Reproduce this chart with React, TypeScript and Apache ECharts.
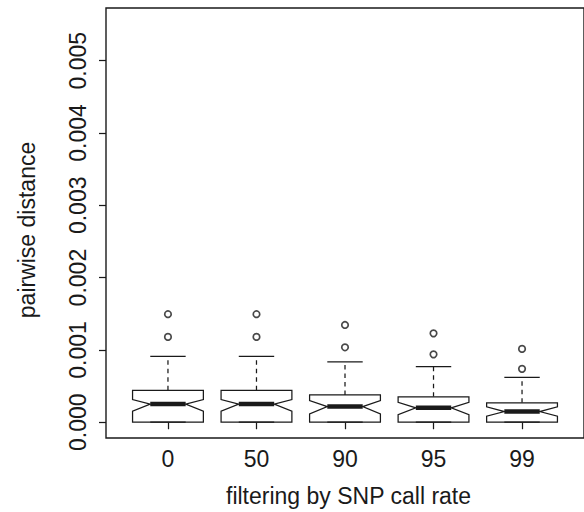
import React, { useEffect, useRef } from "react";
import * as echarts from "echarts";

const categories = ["0", "50", "90", "95", "99"];
const lowerWhisker = [0, 0, 0, 0, 0];
const q1 = [0, 0, 0, 0, 0];
const notchLow = [0.000152, 0.000152, 0.000116, 0.000106, 0.000083];
const medians = [0.000251, 0.000251, 0.000217, 0.000199, 0.000148];
const notchHigh = [0.000314, 0.000314, 0.0003, 0.000276, 0.000213];
const q3 = [0.000442, 0.000442, 0.000378, 0.000351, 0.000268];
const upperWhisker = [0.000912, 0.000912, 0.000834, 0.000769, 0.000622];
const outlierLow = [0.00118, 0.00118, 0.001036, 0.000939, 0.000738];
const outlierHigh = [0.001494, 0.001494, 0.001345, 0.001229, 0.001014];
const yTicks = [0, 0.001, 0.002, 0.003, 0.004, 0.005];

const INK = "#1a1a1a";
const FONT = "'Liberation Sans', Arial, Helvetica, sans-serif";
const LW = 1.25;

export default function App() {
  const ref = useRef<HTMLDivElement>(null);

  useEffect(() => {
    if (!ref.current) return;
    const chart = echarts.init(ref.current, null, { renderer: "svg" });

    const boxData = categories.map((_, i) => [
      i + 1,
      lowerWhisker[i],
      q1[i],
      notchLow[i],
      medians[i],
      notchHigh[i],
      q3[i],
      upperWhisker[i],
    ]);
    const outlierData: number[][] = [];
    categories.forEach((_, i) => {
      outlierData.push([i + 1, outlierLow[i]]);
      outlierData.push([i + 1, outlierHigh[i]]);
    });

    const renderItem = (params: any, api: any) => {
      const x = api.value(0);
      const lw = api.value(1);
      const vq1 = api.value(2);
      const nl = api.value(3);
      const med = api.value(4);
      const nh = api.value(5);
      const vq3 = api.value(6);
      const uw = api.value(7);
      const halfW = api.size([0.8, 0])[0] / 2;
      const c = api.coord([x, 0])[0];
      const y = (v: number) => api.coord([x, v])[1];
      const xl = c - halfW;
      const xr = c + halfW;
      const ml = c - halfW / 2;
      const mr = c + halfW / 2;
      const stroke = { stroke: INK, lineWidth: LW, fill: "none" };
      return {
        type: "group",
        children: [
          {
            type: "line",
            shape: { x1: c, y1: y(vq3), x2: c, y2: y(uw) },
            style: { ...stroke, lineDash: [4.5, 4] },
          },
          {
            type: "line",
            shape: { x1: ml, y1: y(uw), x2: mr, y2: y(uw) },
            style: stroke,
          },
          {
            type: "line",
            shape: { x1: c, y1: y(vq1), x2: c, y2: y(lw) },
            style: { ...stroke, lineDash: [4.5, 4] },
          },
          {
            type: "polygon",
            shape: {
              points: [
                [xl, y(vq1)],
                [xl, y(nl)],
                [ml, y(med)],
                [xl, y(nh)],
                [xl, y(vq3)],
                [xr, y(vq3)],
                [xr, y(nh)],
                [mr, y(med)],
                [xr, y(nl)],
                [xr, y(vq1)],
              ],
            },
            style: { stroke: INK, lineWidth: LW, fill: "#ffffff" },
          },
          {
            type: "line",
            shape: { x1: ml, y1: y(lw), x2: mr, y2: y(lw) },
            style: stroke,
          },
          {
            type: "line",
            shape: { x1: ml, y1: y(med), x2: mr, y2: y(med) },
            style: { stroke: INK, lineWidth: 4.5 },
          },
        ],
      };
    };

    chart.setOption({
      animation: false,
      backgroundColor: "#ffffff",
      textStyle: { fontFamily: FONT },
      grid: {
        left: 106,
        top: 8,
        width: 482,
        height: 430.5,
        show: true,
        borderColor: INK,
        borderWidth: 1.4,
        backgroundColor: "transparent",
      },
      xAxis: {
        type: "value",
        min: 0.3,
        max: 5.7,
        name: "filtering by SNP call rate",
        nameLocation: "middle",
        nameGap: 46,
        nameTextStyle: {
          fontSize: 23,
          color: INK,
          fontFamily: FONT,
          padding: [0, 0, 0, 7],
        },
        axisLine: { show: false },
        splitLine: { show: false },
        axisTick: {
          show: true,
          length: 7,
          lineStyle: { color: INK, width: LW },
          customValues: categories.map((_, i) => i + 1),
        },
        axisLabel: {
          fontSize: 23,
          color: INK,
          fontFamily: FONT,
          margin: 9,
          customValues: categories.map((_, i) => i + 1),
          formatter: (v: number) => categories[Math.round(v) - 1] ?? "",
        },
      },
      yAxis: {
        type: "value",
        min: -0.000218,
        max: 0.005728,
        name: "pairwise distance",
        nameLocation: "middle",
        nameRotate: 90,
        nameGap: 68,
        nameTextStyle: {
          fontSize: 23,
          color: INK,
          fontFamily: FONT,
          padding: [0, 14, 0, 0],
        },
        axisLine: { show: false },
        splitLine: { show: false },
        axisTick: {
          show: true,
          length: 7,
          lineStyle: { color: INK, width: LW },
          customValues: yTicks,
        },
        axisLabel: {
          fontSize: 23,
          color: INK,
          fontFamily: FONT,
          rotate: 90,
          margin: 17,
          customValues: yTicks,
          formatter: (v: number) => v.toFixed(3),
        },
      },
      series: [
        {
          type: "custom",
          renderItem,
          data: boxData,
          encode: { x: 0, y: [1, 2, 3, 4, 5, 6, 7] },
          z: 2,
        },
        {
          type: "scatter",
          data: outlierData,
          symbol: "circle",
          symbolSize: 6.5,
          itemStyle: { color: "#ffffff", borderColor: INK, borderWidth: 1.7 },
          z: 3,
        },
      ],
    });

    return () => chart.dispose();
  }, []);

  return (
    <div
      ref={ref}
      style={{ position: "fixed", left: 0, top: 0, width: 584, height: 512 }}
    />
  );
}
